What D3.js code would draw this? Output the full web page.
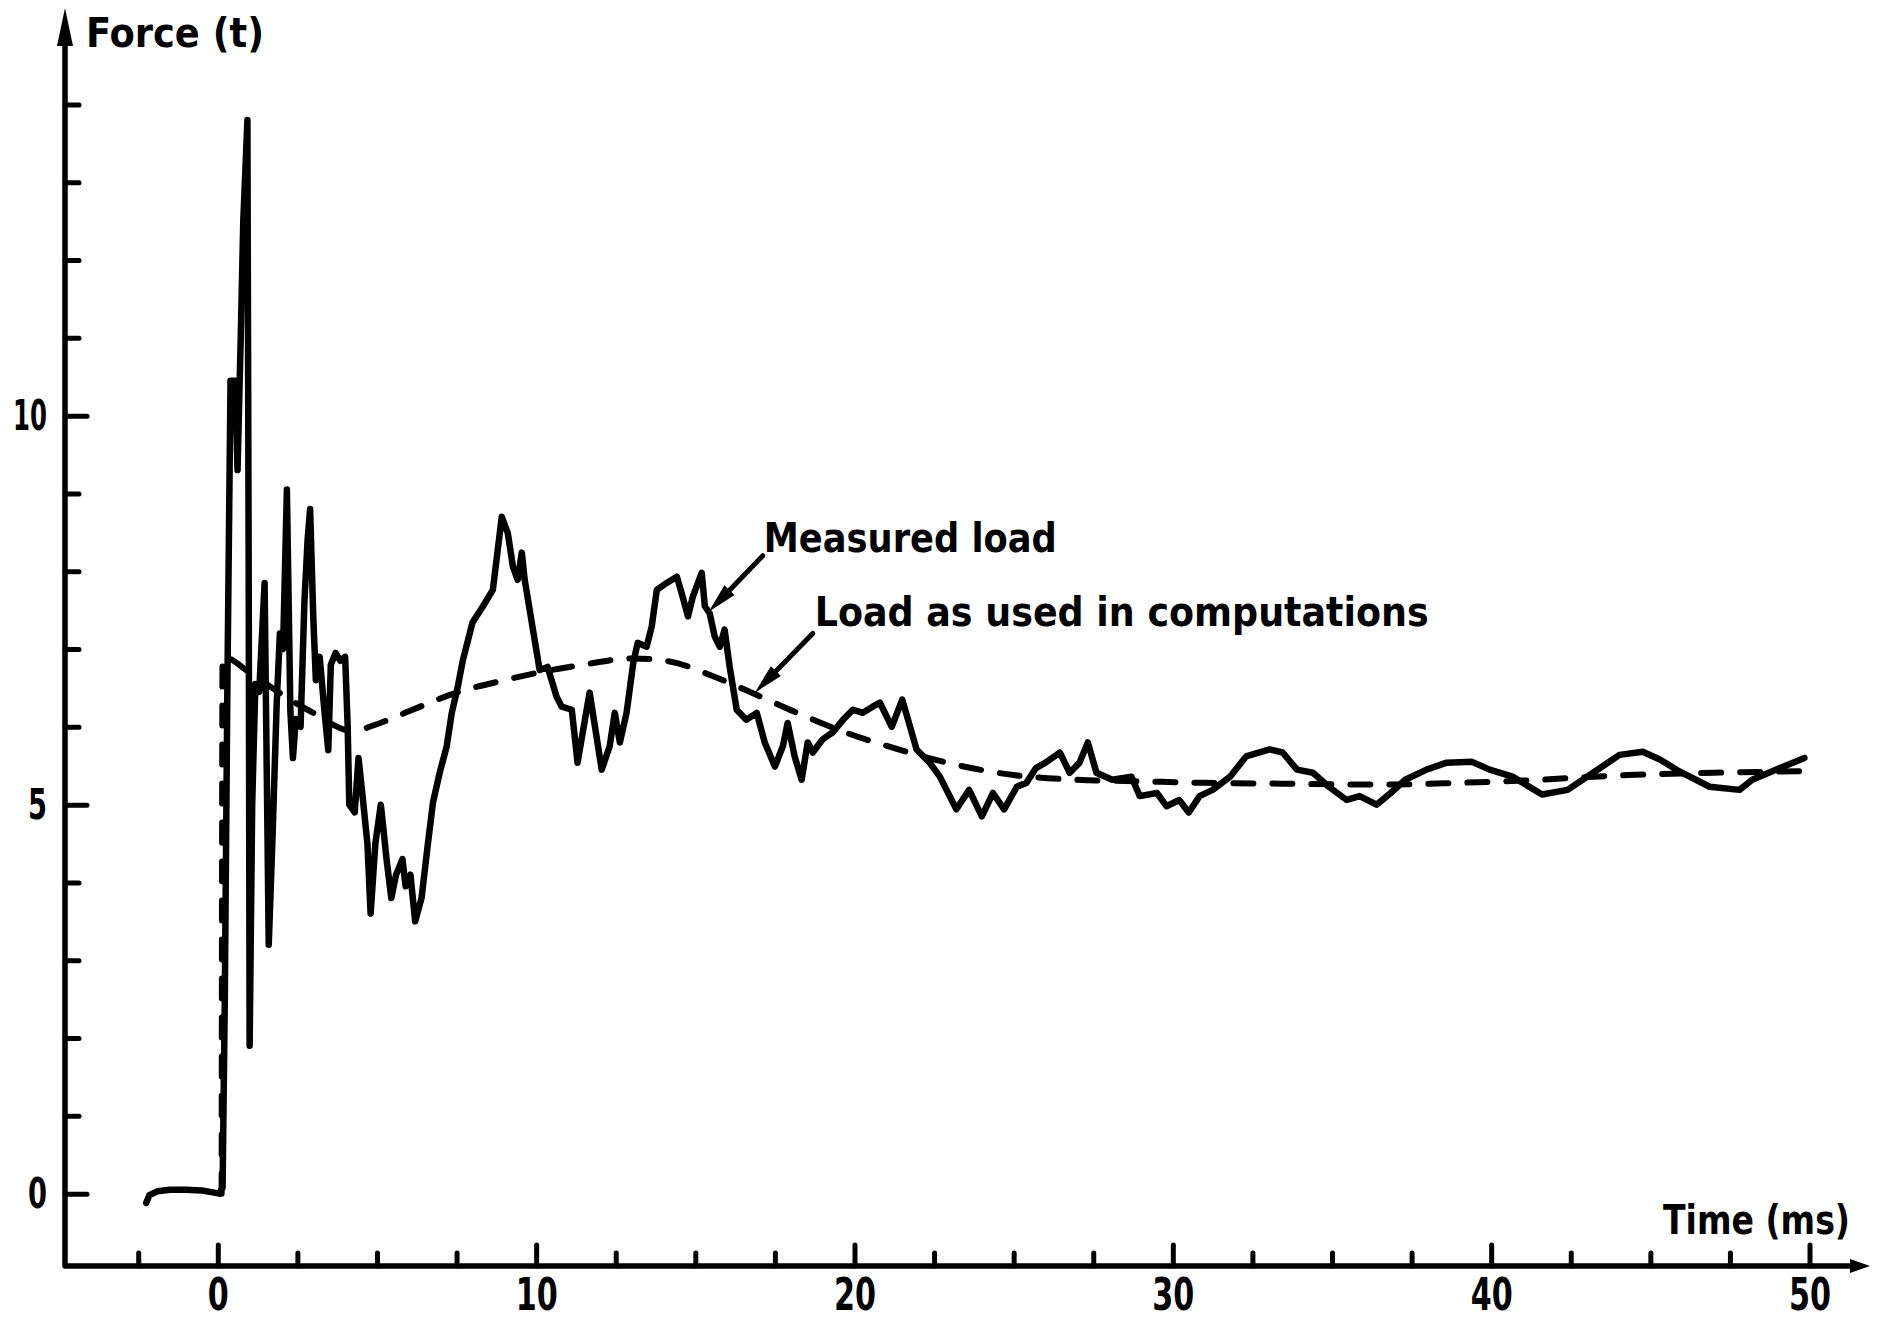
<!DOCTYPE html>
<html>
<head>
<meta charset="utf-8">
<script src="https://cdnjs.cloudflare.com/ajax/libs/d3/7.8.5/d3.min.js"></script>
<style>
    body { margin: 0; background: #fff; }
    text { font-family: "Liberation Sans Narrow", "DejaVu Sans Condensed", sans-serif; font-weight: bold; fill: #000; }
</style>
</head>
<body>
<div id="chart-area"></div>
<script>
// Measured load [time (ms), force (t)]
let measuredLoad = [
    [-2.25, -0.12], [-2.15, -0.02], [-1.9, 0.03], [-1.5, 0.05], [-1.0, 0.05], [-0.5, 0.04], [-0.2, 0.02], [0.05, 0.0], [0.15, 0.08],
    [0.22, 2.5], [0.3, 6.5], [0.4, 10.45], [0.55, 10.45], [0.62, 9.3], [0.72, 11.0], [0.8, 12.5], [0.93, 13.8], [0.97, 8.0], [1.0, 1.9],
    [1.08, 5.0], [1.18, 6.55], [1.3, 6.45], [1.47, 7.85], [1.6, 3.2], [1.72, 4.6], [1.85, 6.3], [1.95, 7.2], [2.05, 7.0], [2.17, 9.05],
    [2.28, 6.2], [2.36, 5.6], [2.45, 6.1], [2.6, 6.0], [2.72, 7.6], [2.82, 8.4], [2.9, 8.8], [3.0, 7.4], [3.08, 6.6], [3.2, 6.9],
    [3.35, 6.2], [3.47, 5.7], [3.55, 6.8], [3.7, 6.95], [3.85, 6.85], [4.0, 6.9], [4.08, 6.0], [4.13, 5.0], [4.3, 4.9], [4.42, 5.6],
    [4.55, 5.1], [4.7, 4.5], [4.8, 3.6], [4.95, 4.5], [5.12, 5.0], [5.2, 4.7], [5.3, 4.3], [5.45, 3.8], [5.6, 4.1], [5.8, 4.3],
    [5.9, 3.95], [6.05, 4.1], [6.2, 3.5], [6.4, 3.8], [6.6, 4.5], [6.76, 5.03], [6.97, 5.41], [7.19, 5.75], [7.35, 6.18], [7.54, 6.52],
    [7.7, 6.86], [8.0, 7.34], [8.33, 7.55], [8.64, 7.76], [8.92, 8.7], [9.11, 8.49], [9.27, 8.06], [9.42, 7.89], [9.55, 8.24], [9.64, 7.89],
    [10.11, 6.73], [10.36, 6.77], [10.64, 6.39], [10.8, 6.26], [11.12, 6.22], [11.3, 5.54], [11.68, 6.44], [12.06, 5.45], [12.31, 5.75],
    [12.47, 6.18], [12.63, 5.8], [12.84, 6.18], [13.05, 6.82], [13.19, 7.08], [13.47, 7.03], [13.63, 7.29], [13.79, 7.76], [14.1, 7.85],
    [14.42, 7.93], [14.57, 7.72], [14.77, 7.42], [14.92, 7.67], [15.2, 7.98], [15.3, 7.55], [15.45, 7.46], [15.61, 7.16], [15.77, 7.03],
    [15.92, 7.25], [16.08, 6.77], [16.3, 6.22], [16.6, 6.09], [16.93, 6.18], [17.18, 5.8], [17.5, 5.49], [17.75, 5.75], [17.9, 6.05],
    [18.12, 5.62], [18.34, 5.32], [18.53, 5.8], [18.69, 5.67], [19.0, 5.84], [19.32, 5.93], [19.64, 6.09], [19.95, 6.22], [20.26, 6.18],
    [20.57, 6.26], [20.8, 6.31], [21.17, 6.0], [21.5, 6.35], [21.95, 5.71], [22.36, 5.54], [22.68, 5.36], [23.2, 4.94], [23.6, 5.19],
    [24.0, 4.85], [24.35, 5.15], [24.7, 4.94], [25.1, 5.23], [25.4, 5.28], [25.7, 5.47], [26.0, 5.54], [26.45, 5.67], [26.76, 5.41],
    [27.07, 5.54], [27.33, 5.8], [27.6, 5.41], [28.1, 5.32], [28.7, 5.36], [28.96, 5.11], [29.5, 5.15], [29.8, 4.98], [30.2, 5.06],
    [30.5, 4.9], [30.84, 5.11], [31.25, 5.19], [31.8, 5.36], [32.3, 5.62], [33.04, 5.71], [33.45, 5.67], [33.9, 5.45], [34.4, 5.41],
    [34.9, 5.23], [35.46, 5.06], [35.87, 5.11], [36.4, 5.0], [36.9, 5.17], [37.3, 5.32], [37.97, 5.45], [38.6, 5.54], [39.4, 5.55],
    [39.95, 5.45], [40.67, 5.36], [41.6, 5.13], [42.4, 5.19], [43.2, 5.41], [44.03, 5.64], [44.76, 5.68], [45.3, 5.58], [45.9, 5.43],
    [46.86, 5.23], [47.8, 5.19], [48.2, 5.32], [49.07, 5.47], [49.84, 5.6]
];

// Load as used in computations [time (ms), force (t)]
let computedLoad = [
    [0.12, 0.0], [0.15, 6.9], [1.0, 6.7], [2.0, 6.42], [3.0, 6.18], [4.2, 5.95], [5.1, 6.05], [6.0, 6.2], [7.5, 6.44], [9.0, 6.6],
    [10.1, 6.7], [11.5, 6.8], [13.0, 6.88], [14.2, 6.84], [15.5, 6.66], [16.6, 6.47], [18.2, 6.18], [19.7, 5.93], [21.3, 5.72],
    [22.9, 5.54], [25.0, 5.38], [27.0, 5.32], [29.0, 5.3], [31.0, 5.28], [33.4, 5.27], [35.5, 5.26], [37.0, 5.26], [39.0, 5.28],
    [41.0, 5.31], [44.3, 5.38], [47.0, 5.41], [49.9, 5.43]
];

let xTickLabels = [0, 10, 20, 30, 40, 50];
let xMinorTicks = [-2.5, 2.5, 5, 7.5, 12.5, 15, 17.5, 22.5, 25, 27.5, 32.5, 35, 37.5, 42.5, 45, 47.5];
let yTickLabels = [0, 5, 10];
let yMinorTicks = [1, 2, 3, 4, 6, 7, 8, 9, 11, 12, 13, 14];

// annotations: text position and arrow from -> tip, in data units
let annotations = [
    { label: "Measured load", t: 17.15, f: 8.25, len: 293, from: [17.12, 8.2], tip: [15.42, 7.48] },
    { label: "Load as used in computations", t: 18.75, f: 7.29, len: 614, from: [18.69, 7.2], tip: [16.87, 6.44] }
];

let width = 1883, height = 1323;

let svg = d3.select("#chart-area")
    .append("svg")
    .attr("width", width)
    .attr("height", height);

// X Scale
let x = d3.scaleLinear()
    .domain([-4.8, 51.9])
    .range([65, 1870]);

// Y Scale
let y = d3.scaleLinear()
    .domain([-0.93, 15.24])
    .range([1266, 8]);

let x0 = x.range()[0], y0 = y.range()[0];

// X Axis (minor ticks)
svg.append("g")
    .attr("transform", "translate(0," + y0 + ")")
    .call(d3.axisBottom(x).tickValues(xMinorTicks).tickSize(-13).tickSizeOuter(0).tickFormat(""))
    .call(g => g.select(".domain").remove());

// X Axis (major ticks + labels)
svg.append("g")
    .attr("class", "x axis")
    .attr("transform", "translate(0," + y0 + ")")
    .call(d3.axisBottom(x).tickValues(xTickLabels).tickSize(-21).tickSizeOuter(0).tickPadding(13).tickFormat(d3.format("d")))
    .call(g => g.select(".domain").remove())
    .selectAll("text")
    .style("font-size", "44px")
    .attr("textLength", function(d){ return d < 10 ? 21 : 42; })
    .attr("lengthAdjust", "spacingAndGlyphs");

// Y Axis (minor ticks)
svg.append("g")
    .attr("transform", "translate(" + x0 + ",0)")
    .call(d3.axisLeft(y).tickValues(yMinorTicks).tickSize(-14).tickSizeOuter(0).tickFormat(""))
    .call(g => g.select(".domain").remove());

// Y Axis (major ticks + labels)
svg.append("g")
    .attr("class", "y axis")
    .attr("transform", "translate(" + x0 + ",0)")
    .call(d3.axisLeft(y).tickValues(yTickLabels).tickSize(-22).tickSizeOuter(0).tickPadding(18).tickFormat(d3.format("d")))
    .call(g => g.select(".domain").remove())
    .selectAll("text")
    .style("font-size", "42px")
    .attr("textLength", function(d){ return d < 10 ? 19 : 34; })
    .attr("lengthAdjust", "spacingAndGlyphs");

svg.selectAll(".tick line")
    .attr("stroke", "#000")
    .attr("stroke-width", 5)
    .attr("stroke-linecap", "round");

// axis lines with arrows
let xEnd = x.range()[1], yTop = y.range()[1];
svg.append("path")
    .attr("d", "M" + x0 + "," + (yTop + 34) + "V" + y0 + "H" + (xEnd - 16))
    .attr("fill", "none")
    .attr("stroke", "#000")
    .attr("stroke-width", 5.5)
    .attr("stroke-linejoin", "round");

svg.append("path")
    .attr("d", "M" + x0 + "," + yTop + "L" + (x0 - 8) + "," + (yTop + 38) + "L" + (x0 + 8) + "," + (yTop + 38) + "Z")
    .attr("fill", "#000");

svg.append("path")
    .attr("d", "M" + xEnd + "," + y0 + "L" + (xEnd - 20) + "," + (y0 - 7) + "L" + (xEnd - 20) + "," + (y0 + 7) + "Z")
    .attr("fill", "#000");

// Axis labels
svg.append("text")
    .attr("x", x0 + 21)
    .attr("y", 47)
    .attr("font-size", "40px")
    .attr("textLength", 178)
    .attr("lengthAdjust", "spacingAndGlyphs")
    .text("Force (t)");

svg.append("text")
    .attr("x", 1663)
    .attr("y", 1234)
    .attr("font-size", "40px")
    .attr("textLength", 187)
    .attr("lengthAdjust", "spacingAndGlyphs")
    .text("Time (ms)");

// Lines
let line = d3.line()
    .x(function(d){ return x(d[0]); })
    .y(function(d){ return y(d[1]); });

svg.append("path")
    .datum(computedLoad)
    .attr("d", line.curve(d3.curveMonotoneX))
    .attr("fill", "none")
    .attr("stroke", "#000")
    .attr("stroke-width", 6)
    .attr("stroke-linecap", "round")
    .attr("stroke-dasharray", "20,19");

svg.append("path")
    .datum(measuredLoad)
    .attr("d", d3.line().x(function(d){ return x(d[0]); }).y(function(d){ return y(d[1]); }))
    .attr("fill", "none")
    .attr("stroke", "#000")
    .attr("stroke-width", 6.5)
    .attr("stroke-linejoin", "round")
    .attr("stroke-linecap", "round");

// Annotations
annotations.forEach(function(a) {
    svg.append("text")
        .attr("x", x(a.t))
        .attr("y", y(a.f))
        .attr("font-size", "40px")
        .attr("textLength", a.len)
        .attr("lengthAdjust", "spacingAndGlyphs")
        .text(a.label);

    let x1 = x(a.from[0]), y1 = y(a.from[1]), x2 = x(a.tip[0]), y2 = y(a.tip[1]);
    let ang = Math.atan2(y2 - y1, x2 - x1);
    let hx = x2 - 30 * Math.cos(ang), hy = y2 - 30 * Math.sin(ang);
    svg.append("line")
        .attr("x1", x1).attr("y1", y1)
        .attr("x2", hx).attr("y2", hy)
        .attr("stroke", "#000")
        .attr("stroke-width", 5)
        .attr("stroke-linecap", "round");
    svg.append("path")
        .attr("d", "M" + x2 + "," + y2 +
            "L" + (hx + 7 * Math.sin(ang)) + "," + (hy - 7 * Math.cos(ang)) +
            "L" + (hx - 7 * Math.sin(ang)) + "," + (hy + 7 * Math.cos(ang)) + "Z")
        .attr("fill", "#000");
});
</script>
</body>
</html>
